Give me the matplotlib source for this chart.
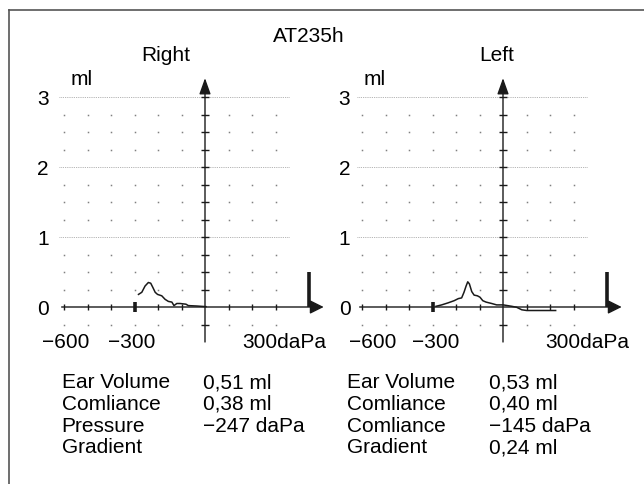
"""
Tympanogram printout AT235h, right and left ear
"""

import numpy as np
import matplotlib
matplotlib.use('Agg')
import matplotlib.pyplot as plt
from matplotlib.lines import Line2D

plt.rcParams['font.family'] = ['Liberation Sans', 'DejaVu Sans']

W, H = 644, 485

# Curves (pressure in daPa, volume in ml)
right_pressure = [-283, -269, -255, -241, -231, -222, -212, -202, -184, -170,
                  -156, -141, -132, -120, -106, -81, -71, -35, 4]
right_volume = [0.18, 0.21, 0.30, 0.35, 0.34, 0.28, 0.21, 0.18, 0.16, 0.11,
                0.08, 0.07, 0.02, 0.05, 0.05, 0.04, 0.02, 0.014, 0.005]

left_pressure = [-285, -261, -233, -208, -190, -176, -166, -157, -150, -143,
                 -133, -123, -109, -98, -86, -72, -48, -27, 1, 37, 58, 80,
                 101, 157, 224]
left_volume = [0.01, 0.03, 0.06, 0.09, 0.12, 0.13, 0.21, 0.30, 0.36, 0.33,
               0.22, 0.17, 0.16, 0.14, 0.09, 0.07, 0.05, 0.03, 0.03, 0.01,
               -0.004, -0.04, -0.05, -0.05, -0.05]

y_labels = ['0', '1', '2', '3']
x_labels = ['\u2212600', '\u2212300', '300daPa']
row_names_right = ['Ear Volume', 'Comliance', 'Pressure', 'Gradient']
row_values_right = ['0,51 ml', '0,38 ml', '\u2212247 daPa', '']
row_names_left = ['Ear Volume', 'Comliance', 'Comliance', 'Gradient']
row_values_left = ['0,53 ml', '0,40 ml', '\u2212145 daPa', '0,24 ml']

FS = 15
INK = '#1a1a1a'


def fig_rect(x, y_top, w, h):
    # pixel box (from top-left) -> figure fraction
    return [x / W, (H - y_top - h) / H, w / W, h / H]


def draw_panel(ax, title, title_x, pressure, volume, ylab_x, ml_x, xlab_x):
    ax.set_xlim(-700, 540)
    ax.set_ylim(-0.7, 3.7)
    ax.axis('off')

    # dotted grid lines at whole ml
    for lev in [1, 2, 3]:
        ax.plot([-622, 362], [lev, lev], color='#9a9a9a', lw=0.6,
                ls=(0, (1, 1.2)), zorder=1)
    # grid dots
    gx = [-600, -500, -400, -300, -200, -100, 100, 200, 300]
    gy = [v for v in np.arange(-0.25, 3.0, 0.25) if abs(v - round(v)) > 0.01]
    GX, GY = np.meshgrid(gx, gy)
    ax.plot(GX.ravel(), GY.ravel(), ls='none', marker='s', ms=1.1,
            mew=0, color='#808080', zorder=1)

    # axes with arrows
    ax.annotate('', xy=(505, 0), xytext=(-610, 0),
                arrowprops=dict(arrowstyle='-|>,head_length=0.6,head_width=0.3',
                                mutation_scale=14, lw=1.0, color=INK,
                                shrinkA=0, shrinkB=0), zorder=3)
    ax.annotate('', xy=(0, 3.27), xytext=(0, -0.5),
                arrowprops=dict(arrowstyle='-|>,head_length=0.7,head_width=0.25',
                                mutation_scale=14, lw=1.0, color=INK,
                                shrinkA=0, shrinkB=0), zorder=3)
    xt = [-600, -500, -400, -200, -100, 100, 200, 300]
    ax.vlines(xt, -0.036, 0.036, color=INK, lw=1.0, zorder=3)
    ax.vlines([-300], -0.075, 0.075, color=INK, lw=2.6, zorder=3)
    yt = [v for v in np.arange(-0.25, 3.01, 0.25) if abs(v) > 0.01]
    ax.hlines(yt, -17, 17, color=INK, lw=1.0, zorder=3)
    ax.vlines([443], 0, 0.5, color=INK, lw=2.6, zorder=3)

    ax.plot(pressure, volume, color=INK, lw=1.1, zorder=4)

    # labels
    for i, lab in enumerate(y_labels):
        ax.text(ylab_x, i - 0.1, lab, fontsize=FS, ha='left', va='baseline')
    ax.text(ml_x, 3.186, 'ml', fontsize=FS, ha='left', va='baseline')
    ax.text(title_x, 3.53, title, fontsize=FS, ha='center', va='baseline')
    for lab, xpos in zip(x_labels, xlab_x):
        ax.text(xpos, -0.571, lab, fontsize=FS, ha='left', va='baseline')


fig = plt.figure(figsize=(W / 100, H / 100), dpi=100)

ax_r = fig.add_axes(fig_rect(205 - 7 * 23.5, 308 - 3.7 * 70, 12.4 * 23.5, 4.4 * 70))
ax_l = fig.add_axes(fig_rect(503 - 7 * 23.5, 308 - 3.7 * 70, 12.4 * 23.5, 4.4 * 70))
draw_panel(ax_r, 'Right', -166, right_pressure, right_volume,
           -715, -574, [-692, -412, 160])
draw_panel(ax_l, 'Left', -27, left_pressure, left_volume,
           -699, -593, [-654, -386, 181])

# frame of the printout
fig.add_artist(Line2D([8.5 / W, 8.5 / W], [0, 1 - 11 / H], color='#555555', lw=1.2))
fig.add_artist(Line2D([8.5 / W, 1], [1 - 11 / H, 1 - 11 / H], color='#555555', lw=1.2))

fig.text(308.5 / W, 1 - 41.7 / H, 'AT235h', fontsize=FS, ha='center', va='baseline')

baselines = [388.3, 410, 431.7, 453.3]
for i in range(4):
    yb = 1 - baselines[i] / H
    fig.text(61.7 / W, yb, row_names_right[i], fontsize=FS, va='baseline')
    fig.text(203 / W, yb, row_values_right[i], fontsize=FS, va='baseline')
    fig.text(346.7 / W, yb, row_names_left[i], fontsize=FS, va='baseline')
    fig.text(489 / W, yb, row_values_left[i], fontsize=FS, va='baseline')

fig.savefig('out.png', dpi=100, facecolor='white')
plt.close(fig)
